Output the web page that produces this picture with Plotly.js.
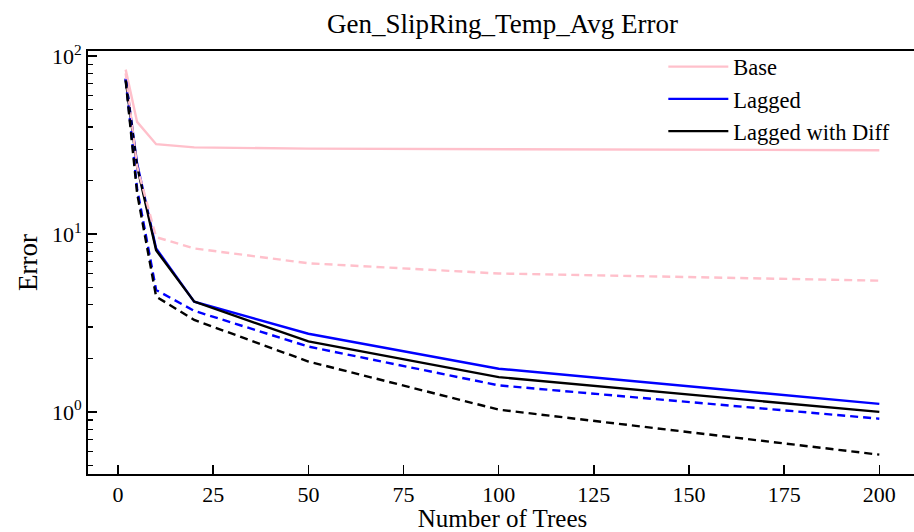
<!DOCTYPE html>
<html>
<head>
<meta charset="utf-8">
<script src="https://cdn.plot.ly/plotly-3.0.1.min.js"></script>
<style>
html, body { margin:0; padding:0; overflow:hidden; background:#fff; }
#chart { width:917px; height:532px; }
</style>
</head>
<body>
<div id="chart"></div>
<script>
// Data
const trees = [2, 5, 10, 20, 50, 100, 200];
const baseSolid = [84, 42.7, 32, 30.7, 30.2, 30.0, 29.6];
const baseDashed = [80, 24, 9.6, 8.3, 6.85, 6.0, 5.47];
const laggedSolid = [75, 24.9, 8.3, 4.17, 2.75, 1.75, 1.11];
const laggedDashed = [74, 18, 4.85, 3.7, 2.33, 1.41, 0.916];
const diffSolid = [74, 24, 8.1, 4.17, 2.49, 1.57, 1.0];
const diffDashed = [73, 17, 4.45, 3.29, 1.92, 1.03, 0.575];
const xTicks = [0, 25, 50, 75, 100, 125, 150, 175, 200];
const yTickVals = [1, 10, 100];
const yTickText = ['10<sup>0</sup>', '10<sup>1</sup>', '10<sup>2</sup>'];
const yMinorVals = [0.5, 0.6, 0.7, 0.8, 0.9, 2, 3, 4, 5, 6, 7, 8, 9, 20, 30, 40, 50, 60, 70, 80, 90];

const FONT = 'Liberation Serif, Times New Roman, serif';
const dash = '8px,5px';
const LW = 2.4;

const traces = [
  {x: trees, y: baseSolid, name: 'Base', mode: 'lines', line: {color: 'pink', width: LW}},
  {x: trees, y: laggedSolid, name: 'Lagged', mode: 'lines', line: {color: 'blue', width: LW}},
  {x: trees, y: diffSolid, name: 'Lagged with Diff', mode: 'lines', line: {color: 'black', width: LW}},
  {x: trees, y: baseDashed, name: 'Base (dashed)', mode: 'lines', showlegend: false, line: {color: 'pink', width: LW, dash: dash}},
  {x: trees, y: laggedDashed, name: 'Lagged (dashed)', mode: 'lines', showlegend: false, line: {color: 'blue', width: LW, dash: dash}},
  {x: trees, y: diffDashed, name: 'Lagged with Diff (dashed)', mode: 'lines', showlegend: false, line: {color: 'black', width: LW, dash: dash}}
];

const layout = {
  width: 917, height: 532,
  margin: {l: 88, r: 0, t: 51, b: 58},
  paper_bgcolor: '#fff', plot_bgcolor: '#fff',
  font: {family: FONT, size: 22, color: '#000'},
  title: {text: 'Gen_SlipRing_Temp_Avg Error', font: {family: FONT, size: 27, color: '#000'},
          xref: 'paper', x: 0.5, xanchor: 'center', y: 0.955, yanchor: 'middle'},
  showlegend: true,
  legend: {x: 0.694, y: 1.013, xanchor: 'left', yanchor: 'top', bgcolor: 'rgba(0,0,0,0)',
           font: {family: FONT, size: 22.5}, itemwidth: 60, traceorder: 'normal'},
  xaxis: {
    range: [-7.9, 209.9], tickmode: 'array', tickvals: xTicks,
    ticks: 'inside', ticklen: 9, tickwidth: 1.6, tickcolor: '#000',
    showline: true, linewidth: 2, linecolor: '#000', mirror: true,
    showgrid: false, zeroline: false,
    tickfont: {family: FONT, size: 22},
    title: {text: 'Number of Trees', font: {family: FONT, size: 25}, standoff: 7}
  },
  yaxis: {
    type: 'log', range: [-0.349, 2.029],
    tickmode: 'array', tickvals: yTickVals, ticktext: yTickText,
    ticks: 'inside', ticklen: 9, tickwidth: 1.6, tickcolor: '#000',
    minor: {tickmode: 'array', tickvals: yMinorVals, ticks: 'inside', ticklen: 5, tickwidth: 1.2, tickcolor: '#000', showgrid: false},
    showline: true, linewidth: 2, linecolor: '#000', mirror: true,
    showgrid: false, zeroline: false,
    tickfont: {family: FONT, size: 22},
    title: {text: 'Error', font: {family: FONT, size: 27}, standoff: 6}
  }
};

Plotly.newPlot('chart', traces, layout, {displayModeBar: false, staticPlot: true});
</script>
</body>
</html>
